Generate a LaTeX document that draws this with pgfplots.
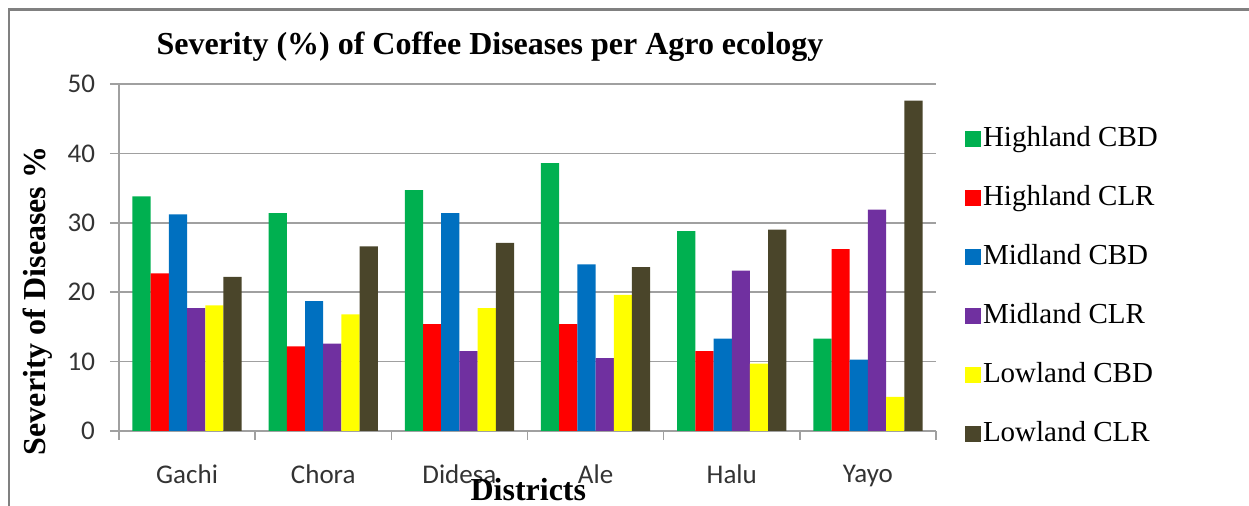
\documentclass[border=0pt]{standalone}
\usepackage{pgfplots}
\pgfplotsset{compat=1.18}
\usepackage{fontspec}
\setmainfont{Liberation Serif}
\newfontfamily\calibri{Carlito}
\definecolor{cG}{RGB}{0,176,80}
\definecolor{cR}{RGB}{255,0,0}
\definecolor{cB}{RGB}{0,112,192}
\definecolor{cP}{RGB}{112,48,160}
\definecolor{cY}{RGB}{255,255,0}
\definecolor{cD}{RGB}{74,69,42}
\definecolor{gridc}{RGB}{160,160,160}
\begin{document}
\begin{tikzpicture}
\path[use as bounding box] (0,0) rectangle (624.5pt,-253pt);
\begin{axis}[
  at={(59.5pt,-215.5pt)}, anchor=south west,
  width=408.5pt, height=173.5pt, scale only axis,
  ybar=0pt, bar width=9.1pt,
  xmin=-0.5, xmax=5.5, ymin=0, ymax=50,
  xtick={0,...,5},
  xticklabels={Gachi,Chora,Didesa,Ale,Halu,Yayo},
  minor xtick={-0.5,0.5,...,5.5},
  ytick={0,10,...,50},
  axis lines=left,
  axis line style={-, draw=gridc, line width=0.8pt},
  tick style={draw=gridc, line width=0.8pt},
  tick align=outside,
  major x tick style={draw=none},
  minor tick length=4.5pt,
  major tick length=4.5pt,
  ymajorgrids, grid style={draw=gridc, line width=0.8pt},
  /pgf/number format/assume math mode=true,
  ticklabel style={font=\calibri\fontsize{13.5}{15}\selectfont, text=black!80},
  xticklabel style={yshift=-9pt},
  yticklabel style={xshift=-4pt},
  ylabel={Severity of Diseases \%},
  ylabel style={at={(axis description cs:-0.099,0.375)}, anchor=center, font=\bfseries\fontsize{16}{18}\selectfont},
  every axis title shift=0pt,
  title={Severity (\%) of Coffee Diseases per Agro ecology},
  title style={at={(axis description cs:0.454,1.107)}, anchor=center, font=\bfseries\fontsize{16}{18}\selectfont},
  xlabel={Districts},
  xlabel style={at={(axis description cs:0.501,-0.170)}, anchor=center, font=\bfseries\fontsize{16}{18}\selectfont},
  legend style={draw=none, fill=none, at={(1.035,0.885)}, anchor=north west,
    font=\fontsize{14.5}{16}\selectfont, row sep=14.5pt, inner sep=0pt,
    nodes={text height=10pt, text depth=3pt, inner sep=1pt, xshift=1pt}},
  legend cell align=left,
  legend image code/.code={\fill[#1,draw=none] (0pt,-4pt) rectangle (8pt,4pt);},
]
\addplot[fill=cG, draw=none] coordinates {(0,33.8) (1,31.4) (2,34.7) (3,38.6) (4,28.8) (5,13.3)};
\addplot[fill=cR, draw=none] coordinates {(0,22.7) (1,12.2) (2,15.4) (3,15.4) (4,11.5) (5,26.2)};
\addplot[fill=cB, draw=none] coordinates {(0,31.2) (1,18.7) (2,31.4) (3,24.0) (4,13.3) (5,10.3)};
\addplot[fill=cP, draw=none] coordinates {(0,17.7) (1,12.6) (2,11.5) (3,10.5) (4,23.1) (5,31.9)};
\addplot[fill=cY, draw=none] coordinates {(0,18.1) (1,16.8) (2,17.7) (3,19.6) (4,9.7) (5,4.9)};
\addplot[fill=cD, draw=none] coordinates {(0,22.2) (1,26.6) (2,27.1) (3,23.6) (4,29.0) (5,47.6)};
\legend{Highland CBD,Highland CLR,Midland CBD,Midland CLR,Lowland CBD,Lowland CLR}
\end{axis}
\draw[gray, line width=1.2pt] (4.5pt,-253pt) -- (4.5pt,-4.75pt) -- (624.5pt,-4.75pt);
\end{tikzpicture}
\end{document}
